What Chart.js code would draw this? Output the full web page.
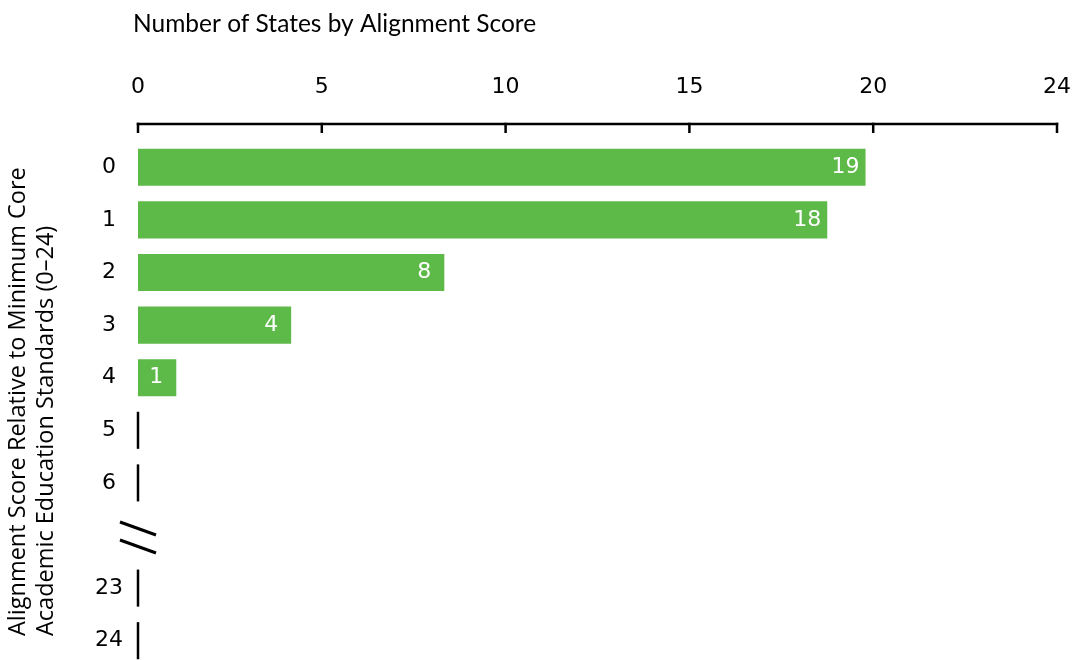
<!DOCTYPE html>
<html><head><meta charset="utf-8">
<script src="https://cdn.jsdelivr.net/npm/chart.js@4/dist/chart.umd.min.js"></script>
<style>html,body{margin:0;padding:0;background:#fff;overflow:hidden}canvas{display:block}</style>
</head><body><canvas id="c" width="1074" height="667"></canvas>
<script>
// ---- data ----
const categories = ['0','1','2','3','4','5','6','','23','24'];
const stateCounts = [19,18,8,4,1,0,0,null,0,0];
const xTickLabels = ['0','5','10','15','20','24'];
const xMax = 24;
const chartTitle = 'Number of States by Alignment Score';
const yTitleLines = ['Alignment Score Relative to Minimum Core', 'Academic Education Standards (0\u201324)'];

// ---- styles ----
const BAR = '#5dba48';
const INK = '#000000';
const TICK_FONT = '"DejaVu Sans", sans-serif';
const breakIndex = categories.indexOf('');

const decor = {
  id: 'decor',
  beforeDatasetsDraw(chart) {
    const {ctx, chartArea, scales: {x, y}} = chart;
    const meta = chart.getDatasetMeta(0);
    ctx.save();
    ctx.strokeStyle = INK;
    ctx.lineWidth = 2.5;
    const ay = chartArea.top - 17;
    const x0 = x.getPixelForValue(0);
    const x1 = x.getPixelForValue(xMax);
    ctx.beginPath(); ctx.moveTo(x0 - 1.25, ay); ctx.lineTo(x1 + 1.25, ay); ctx.stroke();
    x.ticks.forEach(t => {
      const px = x.getPixelForValue(t.value);
      ctx.beginPath(); ctx.moveTo(px, ay - 1.25); ctx.lineTo(px, ay + 9); ctx.stroke();
    });
    const thick = meta.data[0].height;
    categories.forEach((c, i) => {
      if (c === '' || stateCounts[i] > 0) return;
      const cy = y.getPixelForValue(i);
      ctx.beginPath(); ctx.moveTo(x0, cy - thick / 2); ctx.lineTo(x0, cy + thick / 2); ctx.stroke();
    });
    if (breakIndex >= 0) {
      const by = y.getPixelForValue(breakIndex);
      ctx.lineWidth = 3;
      [-7, 11].forEach(off => {
        ctx.beginPath();
        ctx.moveTo(x0 - 18, by + off - 6.5);
        ctx.lineTo(x0 + 18, by + off + 6.5);
        ctx.stroke();
      });
    }
    ctx.restore();
  },
  afterDatasetsDraw(chart) {
    const {ctx} = chart;
    const meta = chart.getDatasetMeta(0);
    ctx.save();
    ctx.fillStyle = '#ffffff';
    ctx.font = '22px ' + TICK_FONT;
    ctx.textAlign = 'center';
    ctx.textBaseline = 'middle';
    meta.data.forEach((bar, i) => {
      const v = stateCounts[i];
      if (v) ctx.fillText(String(v), bar.x - 20, bar.y);
    });
    ctx.restore();
  },
  afterDraw(chart) {
    const {ctx} = chart;
    ctx.save();
    ctx.fillStyle = INK;
    ctx.textBaseline = 'middle';
    ctx.textAlign = 'left';
    ctx.font = '24.5px Lato, sans-serif';
    ctx.fillText(chartTitle, 133, 24);
    ctx.font = '23.5px "Open Sans", sans-serif';
    yTitleLines.forEach((line, i) => {
      ctx.save();
      ctx.translate(18 + i * 28, 636);
      ctx.rotate(-Math.PI / 2);
      ctx.fillText(line, 0, 0);
      ctx.restore();
    });
    ctx.restore();
  }
};

new Chart(document.getElementById('c'), {
  type: 'bar',
  data: {
    labels: categories,
    datasets: [{
      data: stateCounts,
      backgroundColor: BAR,
      borderWidth: 0,
      categoryPercentage: 1,
      barPercentage: 0.705
    }]
  },
  plugins: [decor],
  options: {
    indexAxis: 'y',
    responsive: false,
    animation: false,
    layout: {padding: {left: 0, right: 17, top: 0, bottom: 0}},
    plugins: {legend: {display: false}, tooltip: {enabled: false}, title: {display: false}},
    scales: {
      x: {
        position: 'top',
        min: 0, max: xMax,
        afterBuildTicks(scale) {
          scale.ticks = xTickLabels.map((l, i) => ({value: i * xMax / (xTickLabels.length - 1)}));
        },
        afterFit(scale) { scale.height = 141; scale.paddingLeft = 0; scale.paddingRight = 0; },
        grid: {display: false, drawTicks: false},
        border: {display: false},
        ticks: {
          autoSkip: false, maxRotation: 0,
          padding: 41,
          color: INK,
          font: {family: TICK_FONT, size: 22},
          callback: (v, i) => xTickLabels[i]
        }
      },
      y: {
        afterFit(scale) { scale.width = 138; scale.paddingTop = 0; scale.paddingBottom = 0; },
        grid: {display: false, drawTicks: false},
        border: {display: false},
        ticks: {
          crossAlign: 'center',
          padding: 15,
          color: INK,
          font: {family: TICK_FONT, size: 22}
        }
      }
    }
  }
});
</script>
</body></html>
